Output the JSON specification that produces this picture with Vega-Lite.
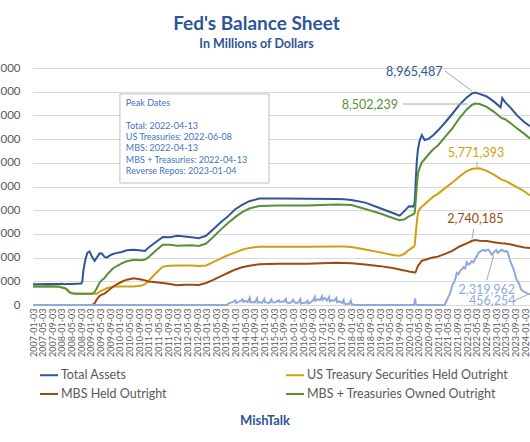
{
"$schema":"https://vega.github.io/schema/vega-lite/v6.json",
"width":497,"height":237,
"autosize":{"type":"none"},
"padding":{"left":33,"top":68,"right":0,"bottom":137},
"background":"white",
"config":{"font":"Lato","view":{"stroke":null}},
"title":{"text":"Fed's Balance Sheet","subtitle":"In Millions of Dollars","anchor":"middle","frame":"group","dx":-25,"offset":12,"font":"Lato","fontSize":19,"fontWeight":"bold","color":"#2F5597","subtitleFont":"Lato","subtitleFontSize":12.5,"subtitleFontWeight":"bold","subtitleColor":"#2F5597","subtitlePadding":4},
"datasets":{
"rec":[{"d":"2007-12-01","d2":"2009-06-01"},{"d":"2020-02-15","d2":"2020-04-20"}],
"box":[{"d":"2010-01-04","d2":"2015-02-28","v":8903000,"v2":5148000}],
"boxtext":[
{"d":"2010-03-20","v":8510000,"t":"Peak Dates"},
{"d":"2010-03-20","v":7550000,"t":"Total: 2022-04-13"},
{"d":"2010-03-20","v":7090000,"t":"US Treasuries: 2022-06-08"},
{"d":"2010-03-20","v":6620000,"t":"MBS: 2022-04-13"},
{"d":"2010-03-20","v":6130000,"t":"MBS + Treasuries: 2022-04-13"},
{"d":"2010-03-20","v":5640000,"t":"Reverse Repos: 2023-01-04"}],
"main":[
{"d":"2007-01-03","ta":872000,"ust":779000,"mbs":0,"mt":779000},
{"d":"2007-04-04","ta":877000,"ust":782000,"mbs":0,"mt":782000},
{"d":"2007-07-04","ta":882000,"ust":790000,"mbs":0,"mt":790000},
{"d":"2007-10-03","ta":884000,"ust":781000,"mbs":0,"mt":781000},
{"d":"2007-12-05","ta":891000,"ust":774000,"mbs":0,"mt":774000},
{"d":"2008-01-02","ta":899000,"ust":740000,"mbs":0,"mt":740000},
{"d":"2008-02-06","ta":880000,"ust":713000,"mbs":0,"mt":713000},
{"d":"2008-03-05","ta":884000,"ust":660000,"mbs":0,"mt":660000},
{"d":"2008-04-02","ta":886000,"ust":548000,"mbs":0,"mt":548000},
{"d":"2008-05-07","ta":887000,"ust":500000,"mbs":0,"mt":500000},
{"d":"2008-07-02","ta":899000,"ust":479000,"mbs":0,"mt":479000},
{"d":"2008-09-03","ta":905000,"ust":479000,"mbs":0,"mt":479000},
{"d":"2008-09-17","ta":1000000,"ust":479000,"mbs":0,"mt":479000},
{"d":"2008-10-01","ta":1490000,"ust":477000,"mbs":0,"mt":477000},
{"d":"2008-10-29","ta":1970000,"ust":477000,"mbs":0,"mt":477000},
{"d":"2008-11-19","ta":2200000,"ust":476000,"mbs":0,"mt":476000},
{"d":"2008-12-17","ta":2260000,"ust":476000,"mbs":0,"mt":476000},
{"d":"2009-01-14","ta":2060000,"ust":475000,"mbs":0,"mt":475000},
{"d":"2009-02-18","ta":1860000,"ust":475000,"mbs":68000,"mt":543000},
{"d":"2009-03-18","ta":2000000,"ust":474000,"mbs":236000,"mt":710000},
{"d":"2009-04-22","ta":2180000,"ust":560000,"mbs":380000,"mt":940000},
{"d":"2009-05-20","ta":2170000,"ust":610000,"mbs":440000,"mt":1050000},
{"d":"2009-06-24","ta":2030000,"ust":660000,"mbs":480000,"mt":1140000},
{"d":"2009-07-22","ta":2000000,"ust":710000,"mbs":560000,"mt":1270000},
{"d":"2009-08-26","ta":2080000,"ust":740000,"mbs":650000,"mt":1390000},
{"d":"2009-10-07","ta":2150000,"ust":770000,"mbs":770000,"mt":1540000},
{"d":"2009-12-02","ta":2200000,"ust":776000,"mbs":880000,"mt":1656000},
{"d":"2010-01-27","ta":2240000,"ust":777000,"mbs":980000,"mt":1757000},
{"d":"2010-03-31","ta":2310000,"ust":777000,"mbs":1069000,"mt":1846000},
{"d":"2010-06-30","ta":2330000,"ust":777000,"mbs":1129000,"mt":1906000},
{"d":"2010-09-29","ta":2300000,"ust":810000,"mbs":1080000,"mt":1890000},
{"d":"2010-11-17","ta":2280000,"ust":880000,"mbs":1040000,"mt":1920000},
{"d":"2010-12-29","ta":2420000,"ust":1016000,"mbs":992000,"mt":2008000},
{"d":"2011-03-30","ta":2650000,"ust":1330000,"mbs":960000,"mt":2290000},
{"d":"2011-06-29","ta":2870000,"ust":1620000,"mbs":925000,"mt":2545000},
{"d":"2011-09-28","ta":2860000,"ust":1660000,"mbs":886000,"mt":2546000},
{"d":"2011-12-28","ta":2920000,"ust":1663000,"mbs":837000,"mt":2500000},
{"d":"2012-03-28","ta":2890000,"ust":1665000,"mbs":850000,"mt":2515000},
{"d":"2012-06-27","ta":2860000,"ust":1665000,"mbs":855000,"mt":2520000},
{"d":"2012-09-26","ta":2820000,"ust":1645000,"mbs":845000,"mt":2490000},
{"d":"2012-12-26","ta":2920000,"ust":1666000,"mbs":927000,"mt":2593000},
{"d":"2013-03-27","ta":3200000,"ust":1810000,"mbs":1060000,"mt":2870000},
{"d":"2013-06-26","ta":3480000,"ust":1960000,"mbs":1210000,"mt":3170000},
{"d":"2013-09-25","ta":3730000,"ust":2100000,"mbs":1350000,"mt":3450000},
{"d":"2013-12-25","ta":4030000,"ust":2208000,"mbs":1490000,"mt":3698000},
{"d":"2014-03-26","ta":4220000,"ust":2330000,"mbs":1590000,"mt":3920000},
{"d":"2014-06-25","ta":4380000,"ust":2410000,"mbs":1660000,"mt":4070000},
{"d":"2014-10-29","ta":4490000,"ust":2461000,"mbs":1720000,"mt":4181000},
{"d":"2015-06-24","ta":4490000,"ust":2461000,"mbs":1740000,"mt":4201000},
{"d":"2016-06-29","ta":4480000,"ust":2463000,"mbs":1740000,"mt":4203000},
{"d":"2017-06-28","ta":4470000,"ust":2465000,"mbs":1780000,"mt":4245000},
{"d":"2017-10-04","ta":4460000,"ust":2465000,"mbs":1770000,"mt":4235000},
{"d":"2018-01-03","ta":4430000,"ust":2450000,"mbs":1765000,"mt":4215000},
{"d":"2018-06-27","ta":4320000,"ust":2340000,"mbs":1710000,"mt":4050000},
{"d":"2019-01-02","ta":4080000,"ust":2220000,"mbs":1640000,"mt":3860000},
{"d":"2019-06-26","ta":3860000,"ust":2100000,"mbs":1550000,"mt":3650000},
{"d":"2019-09-04","ta":3770000,"ust":2080000,"mbs":1500000,"mt":3580000},
{"d":"2019-10-30","ta":3950000,"ust":2150000,"mbs":1460000,"mt":3610000},
{"d":"2019-12-31","ta":4170000,"ust":2330000,"mbs":1410000,"mt":3740000},
{"d":"2020-02-26","ta":4160000,"ust":2450000,"mbs":1380000,"mt":3830000},
{"d":"2020-03-11","ta":4310000,"ust":2520000,"mbs":1370000,"mt":3890000},
{"d":"2020-03-18","ta":4670000,"ust":2730000,"mbs":1370000,"mt":4100000},
{"d":"2020-03-25","ta":5250000,"ust":3000000,"mbs":1400000,"mt":4400000},
{"d":"2020-04-08","ta":6080000,"ust":3500000,"mbs":1530000,"mt":5030000},
{"d":"2020-04-22","ta":6570000,"ust":3900000,"mbs":1650000,"mt":5550000},
{"d":"2020-05-13","ta":6930000,"ust":4050000,"mbs":1730000,"mt":5780000},
{"d":"2020-06-10","ta":7170000,"ust":4150000,"mbs":1870000,"mt":6020000},
{"d":"2020-07-15","ta":6960000,"ust":4250000,"mbs":1900000,"mt":6150000},
{"d":"2020-09-02","ta":7010000,"ust":4400000,"mbs":1950000,"mt":6350000},
{"d":"2020-10-28","ta":7150000,"ust":4560000,"mbs":2000000,"mt":6560000},
{"d":"2020-12-30","ta":7360000,"ust":4690000,"mbs":2040000,"mt":6730000},
{"d":"2021-03-31","ta":7700000,"ust":4930000,"mbs":2160000,"mt":7090000},
{"d":"2021-06-30","ta":8070000,"ust":5170000,"mbs":2280000,"mt":7450000},
{"d":"2021-09-29","ta":8450000,"ust":5420000,"mbs":2470000,"mt":7890000},
{"d":"2021-12-29","ta":8760000,"ust":5650000,"mbs":2600000,"mt":8250000},
{"d":"2022-03-02","ta":8920000,"ust":5740000,"mbs":2700000,"mt":8440000},
{"d":"2022-04-13","ta":8965487,"ust":5762054,"mbs":2740185,"mt":8502239},
{"d":"2022-06-08","ta":8910000,"ust":5771393,"mbs":2710000,"mt":8481393},
{"d":"2022-09-07","ta":8800000,"ust":5660000,"mbs":2700000,"mt":8360000},
{"d":"2022-12-07","ta":8580000,"ust":5500000,"mbs":2650000,"mt":8150000},
{"d":"2023-03-01","ta":8340000,"ust":5310000,"mbs":2610000,"mt":7920000},
{"d":"2023-03-22","ta":8730000,"ust":5280000,"mbs":2600000,"mt":7880000},
{"d":"2023-04-26","ta":8560000,"ust":5250000,"mbs":2590000,"mt":7840000},
{"d":"2023-06-28","ta":8350000,"ust":5130000,"mbs":2560000,"mt":7690000},
{"d":"2023-09-27","ta":7990000,"ust":4960000,"mbs":2490000,"mt":7450000},
{"d":"2023-12-27","ta":7710000,"ust":4790000,"mbs":2430000,"mt":7220000},
{"d":"2024-03-06","ta":7540000,"ust":4620000,"mbs":2400000,"mt":7020000}],
"rrp":[
{"d":"2007-01-03","v":0},{"d":"2013-09-18","v":0},{"d":"2013-10-02","v":60000},{"d":"2013-11-06","v":100000},{"d":"2013-12-04","v":130000},{"d":"2013-12-31","v":200000},
{"d":"2014-01-08","v":90000},{"d":"2014-02-05","v":120000},{"d":"2014-03-05","v":170000},{"d":"2014-03-31","v":240000},{"d":"2014-04-09","v":130000},{"d":"2014-05-07","v":170000},{"d":"2014-06-04","v":120000},{"d":"2014-06-30","v":300000},{"d":"2014-07-09","v":110000},{"d":"2014-08-06","v":130000},{"d":"2014-09-03","v":110000},{"d":"2014-09-30","v":280000},{"d":"2014-10-08","v":100000},{"d":"2014-11-05","v":120000},{"d":"2014-12-03","v":90000},{"d":"2014-12-31","v":250000},
{"d":"2015-01-07","v":120000},{"d":"2015-02-04","v":100000},{"d":"2015-03-04","v":90000},{"d":"2015-03-31","v":230000},{"d":"2015-04-08","v":120000},{"d":"2015-05-06","v":110000},{"d":"2015-06-03","v":140000},{"d":"2015-06-30","v":200000},{"d":"2015-07-08","v":130000},{"d":"2015-08-05","v":140000},{"d":"2015-09-02","v":150000},{"d":"2015-09-30","v":260000},{"d":"2015-10-07","v":120000},{"d":"2015-11-04","v":90000},{"d":"2015-12-02","v":100000},{"d":"2015-12-30","v":220000},
{"d":"2016-01-06","v":150000},{"d":"2016-02-03","v":90000},{"d":"2016-03-02","v":100000},{"d":"2016-03-30","v":240000},{"d":"2016-04-06","v":60000},{"d":"2016-05-04","v":80000},{"d":"2016-06-01","v":90000},{"d":"2016-06-29","v":180000},{"d":"2016-07-06","v":70000},{"d":"2016-08-03","v":100000},{"d":"2016-09-07","v":200000},{"d":"2016-09-28","v":340000},{"d":"2016-10-05","v":180000},{"d":"2016-11-02","v":250000},{"d":"2016-11-30","v":200000},{"d":"2016-12-28","v":360000},
{"d":"2017-01-04","v":210000},{"d":"2017-02-01","v":300000},{"d":"2017-03-01","v":190000},{"d":"2017-03-29","v":340000},{"d":"2017-04-05","v":150000},{"d":"2017-05-03","v":200000},{"d":"2017-05-31","v":180000},{"d":"2017-06-28","v":300000},{"d":"2017-07-05","v":120000},{"d":"2017-08-02","v":150000},{"d":"2017-09-06","v":90000},{"d":"2017-09-27","v":210000},{"d":"2017-10-04","v":60000},{"d":"2017-11-01","v":40000},{"d":"2017-12-06","v":50000},{"d":"2017-12-27","v":180000},
{"d":"2018-01-03","v":40000},{"d":"2018-02-07","v":5000},{"d":"2020-03-04","v":5000},{"d":"2020-03-18","v":280000},{"d":"2020-03-25","v":40000},{"d":"2020-04-08","v":3000},{"d":"2021-03-24","v":3000},
{"d":"2021-04-14","v":150000},{"d":"2021-05-05","v":300000},{"d":"2021-05-26","v":450000},{"d":"2021-06-16","v":650000},{"d":"2021-06-30","v":850000},{"d":"2021-07-21","v":950000},{"d":"2021-08-11","v":1150000},{"d":"2021-08-25","v":1350000},{"d":"2021-09-15","v":1300000},{"d":"2021-10-06","v":1450000},{"d":"2021-10-27","v":1500000},{"d":"2021-11-17","v":1600000},{"d":"2021-12-08","v":1550000},{"d":"2021-12-29","v":1800000},
{"d":"2022-01-19","v":1700000},{"d":"2022-02-09","v":1750000},{"d":"2022-03-02","v":1850000},{"d":"2022-03-23","v":1800000},{"d":"2022-04-13","v":1950000},{"d":"2022-05-04","v":2050000},{"d":"2022-05-25","v":2200000},{"d":"2022-06-15","v":2250000},{"d":"2022-07-06","v":2300000},{"d":"2022-07-27","v":2330000},{"d":"2022-08-17","v":2280000},{"d":"2022-09-07","v":2320000},{"d":"2022-09-28","v":2340000},{"d":"2022-10-19","v":2250000},{"d":"2022-11-09","v":2120000},{"d":"2022-11-30","v":2200000},{"d":"2022-12-21","v":2280000},
{"d":"2023-01-04","v":2319962},{"d":"2023-01-25","v":2200000},{"d":"2023-02-15","v":2250000},{"d":"2023-03-08","v":2330000},{"d":"2023-03-29","v":2300000},{"d":"2023-04-19","v":2250000},{"d":"2023-05-10","v":2280000},{"d":"2023-05-31","v":2230000},{"d":"2023-06-21","v":1950000},{"d":"2023-07-12","v":1750000},{"d":"2023-08-02","v":1600000},{"d":"2023-08-23","v":1400000},{"d":"2023-09-13","v":1100000},{"d":"2023-10-04","v":1000000},{"d":"2023-10-25","v":850000},{"d":"2023-11-15","v":650000},{"d":"2023-12-06","v":600000},{"d":"2023-12-27","v":550000},
{"d":"2024-01-17","v":520000},{"d":"2024-02-07","v":480000},{"d":"2024-03-06","v":456254}],
"notes":[
{"d":"2020-03-07","v":9850000,"s":"ta","t":"8,965,487"},
{"d":"2018-08-24","v":8440000,"s":"mt","t":"8,502,239"},
{"d":"2022-04-24","v":6430000,"s":"ust","t":"5,771,393"},
{"d":"2022-04-17","v":3610000,"s":"mbs","t":"2,740,185"},
{"d":"2022-09-08","v":654000,"s":"rrp","t":"2,319,962"},
{"d":"2022-11-16","v":148000,"s":"rrp","t":"456,254"}],
"leaders":[
{"d":"2021-03-29","v":9873000,"d2":"2022-03-04","v2":9030000},
{"d":"2019-10-15","v":8480000,"d2":"2022-01-13","v2":8480000},
{"d":"2022-05-07","v":6030000,"d2":"2022-05-07","v2":5820000},
{"d":"2022-03-29","v":3210000,"d2":"2022-03-04","v2":2780000},
{"d":"2022-09-08","v":1050000,"d2":"2022-12-05","v2":2110000},
{"d":"2023-08-15","v":170000,"d2":"2024-02-21","v2":460000}]
},
"encoding":{
"x":{"field":"d","type":"temporal",
"scale":{"type":"utc","domain":[{"year":2007,"month":1,"date":3,"utc":true},{"year":2024,"month":3,"date":6,"utc":true}]},
"axis":{"labelExpr":"utcFormat(datum.value, '%Y-%m-%d')","labelAngle":-90,"labelFont":"Lato","labelFontSize":9,"labelColor":"#595959","labelOverlap":false,"labelBound":false,"labelFlush":false,"labelPadding":3,"ticks":false,"grid":false,"domainColor":"#D9D9D9","title":"MishTalk","titleFont":"Lato","titleFontSize":13,"titleFontWeight":"bold","titleColor":"#2F5597","titleX":231.5,"titleY":115,"titleAlign":"center","titleBaseline":"middle",
"values":[
{"year":2007,"month":1,"date":3,"utc":true},{"year":2007,"month":5,"date":3,"utc":true},{"year":2007,"month":9,"date":3,"utc":true},
{"year":2008,"month":1,"date":3,"utc":true},{"year":2008,"month":5,"date":3,"utc":true},{"year":2008,"month":9,"date":3,"utc":true},
{"year":2009,"month":1,"date":3,"utc":true},{"year":2009,"month":5,"date":3,"utc":true},{"year":2009,"month":9,"date":3,"utc":true},
{"year":2010,"month":1,"date":3,"utc":true},{"year":2010,"month":5,"date":3,"utc":true},{"year":2010,"month":9,"date":3,"utc":true},
{"year":2011,"month":1,"date":3,"utc":true},{"year":2011,"month":5,"date":3,"utc":true},{"year":2011,"month":9,"date":3,"utc":true},
{"year":2012,"month":1,"date":3,"utc":true},{"year":2012,"month":5,"date":3,"utc":true},{"year":2012,"month":9,"date":3,"utc":true},
{"year":2013,"month":1,"date":3,"utc":true},{"year":2013,"month":5,"date":3,"utc":true},{"year":2013,"month":9,"date":3,"utc":true},
{"year":2014,"month":1,"date":3,"utc":true},{"year":2014,"month":5,"date":3,"utc":true},{"year":2014,"month":9,"date":3,"utc":true},
{"year":2015,"month":1,"date":3,"utc":true},{"year":2015,"month":5,"date":3,"utc":true},{"year":2015,"month":9,"date":3,"utc":true},
{"year":2016,"month":1,"date":3,"utc":true},{"year":2016,"month":5,"date":3,"utc":true},{"year":2016,"month":9,"date":3,"utc":true},
{"year":2017,"month":1,"date":3,"utc":true},{"year":2017,"month":5,"date":3,"utc":true},{"year":2017,"month":9,"date":3,"utc":true},
{"year":2018,"month":1,"date":3,"utc":true},{"year":2018,"month":5,"date":3,"utc":true},{"year":2018,"month":9,"date":3,"utc":true},
{"year":2019,"month":1,"date":3,"utc":true},{"year":2019,"month":5,"date":3,"utc":true},{"year":2019,"month":9,"date":3,"utc":true},
{"year":2020,"month":1,"date":3,"utc":true},{"year":2020,"month":5,"date":3,"utc":true},{"year":2020,"month":9,"date":3,"utc":true},
{"year":2021,"month":1,"date":3,"utc":true},{"year":2021,"month":5,"date":3,"utc":true},{"year":2021,"month":9,"date":3,"utc":true},
{"year":2022,"month":1,"date":3,"utc":true},{"year":2022,"month":5,"date":3,"utc":true},{"year":2022,"month":9,"date":3,"utc":true},
{"year":2023,"month":1,"date":3,"utc":true},{"year":2023,"month":5,"date":3,"utc":true},{"year":2023,"month":9,"date":3,"utc":true},
{"year":2024,"month":1,"date":3,"utc":true}]}},
"y":{"field":"v","type":"quantitative","scale":{"domain":[0,10000000],"nice":false},
 "axis":{"title":null,"format":",d","tickCount":10,"labelFont":"Lato","labelFontSize":11.5,"labelColor":"#595959","labelPadding":13,"domain":false,"ticks":false,"grid":true,"gridColor":"#D9D9D9"}}
},
"layer":[
{"data":{"name":"rec"},"mark":{"type":"rect","color":"#DEDEDE"},
 "encoding":{"x2":{"field":"d2"},"y":{"datum":0,"type":"quantitative"},"y2":{"datum":10000000}}},
{"data":{"name":"box"},"mark":{"type":"rect","fill":"white","stroke":"#BFBFBF","strokeWidth":1},
 "encoding":{"x2":{"field":"d2"},"y2":{"field":"v2"}}},
{"data":{"name":"boxtext"},"mark":{"type":"text","align":"left","baseline":"middle","fontSize":9,"font":"Lato","color":"#4472C4"},
 "encoding":{"text":{"field":"t"}}},
{"data":{"name":"main"},"transform":[{"fold":["ta","ust","mbs","mt"],"as":["s","v"]}],
 "mark":{"type":"line","strokeWidth":2},
 "encoding":{
  "color":{"field":"s","type":"nominal",
   "scale":{"domain":["ta","mbs","ust","mt","rrp"],"range":["#2F5597","#9C4A12","#D1A00E","#58903A","#8EAADB"]},
   "legend":{"orient":"none","legendX":6,"legendY":297,"columns":2,"title":null,"padding":0,"symbolType":"stroke","symbolStrokeWidth":2,"symbolSize":324,"labelFont":"Lato","labelFontSize":12.5,"labelColor":"#595959","labelLimit":400,"labelOffset":2,"columnPadding":115,"rowPadding":2,"values":["ta","mbs","ust","mt"],
    "labelExpr":"datum.label == 'ta' ? 'Total Assets' : datum.label == 'ust' ? 'US Treasury Securities Held Outright' : datum.label == 'mbs' ? 'MBS Held Outright' : 'MBS + Treasuries Owned Outright'"}}}},
{"data":{"name":"rrp"},"mark":{"type":"line","strokeWidth":2},
 "encoding":{"color":{"datum":"rrp","scale":{"domain":["ta","mbs","ust","mt","rrp"],"range":["#2F5597","#9C4A12","#D1A00E","#58903A","#8EAADB"]},"legend":null}}},
{"data":{"name":"leaders"},"mark":{"type":"rule","color":"#A6A6A6","strokeWidth":1},
 "encoding":{"x2":{"field":"d2"},"y2":{"field":"v2"}}},
{"data":{"name":"notes"},"mark":{"type":"text","align":"center","baseline":"middle","fontSize":12.5,"font":"Lato"},
 "encoding":{"text":{"field":"t"},
  "color":{"field":"s","type":"nominal","scale":{"domain":["ta","mbs","ust","mt","rrp"],"range":["#2F5597","#9C4A12","#D1A00E","#58903A","#8EAADB"]},"legend":null}}}
]
}
